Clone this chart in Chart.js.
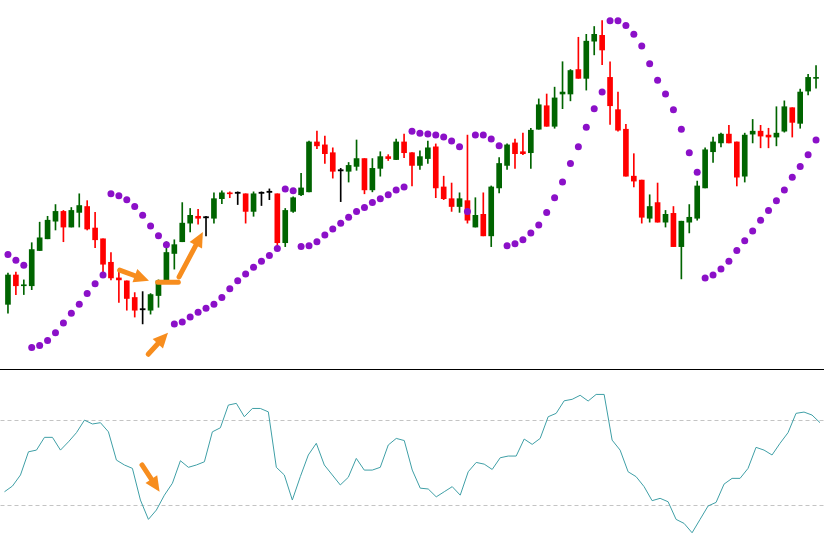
<!DOCTYPE html>
<html lang="en">
<head>
    <meta charset="UTF-8"/>
    <title>Parabolic SAR and RSI</title>
    <script src="https://cdn.jsdelivr.net/npm/chart.js"></script>
    <style>
        html, body {
            margin: 0;
            padding: 0;
            background: #ffffff;
        }

        #pricePane {
            width: 824px;
            height: 369px;
            border-bottom: 1px solid #000000;
        }

        canvas {
            display: block;
        }
    </style>
</head>
<body>
<div id="pricePane">
    <canvas id="priceChart" width="824" height="369"></canvas>
</div>
<canvas id="rsiChart" width="824" height="177"></canvas>

<script>
    // candles
    const open = [62, 92, 81, 81, 117, 129, 147, 157, 141, 156,
        162, 140, 129, 105, 89, 86, 69, 57, 56, 71,
        85, 114, 126, 145, 152, 151, 150, 170, 176, 176,
        175, 157, 176, 177, 175, 125, 157, 174, 177, 228,
        225, 217, 199, 198, 203, 211, 179, 201, 213, 210,
        228, 217, 204, 211, 223, 182, 170, 162, 168, 141,
        154, 132, 181, 204, 227, 218, 217, 241, 265, 244,
        277, 277, 302, 293, 331, 337, 294, 261, 241, 193,
        189, 150, 166, 146, 155, 121, 146, 150, 181, 218,
        227, 236, 228, 193, 236, 239, 235, 233, 239, 263,
        247, 280, 293];
    const high = [94, 95, 87, 125, 146, 152, 164, 158, 161, 175,
        168, 156, 129, 115, 96, 86, 74, 75, 73, 87,
        126, 128, 166, 160, 159, 152, 176, 178, 177, 177,
        175, 177, 177, 180, 175, 160, 172, 196, 229, 239,
        234, 222, 201, 207, 230, 211, 211, 218, 215, 231,
        236, 217, 219, 229, 226, 193, 186, 176, 235, 171,
        176, 183, 212, 226, 231, 237, 242, 272, 277, 284,
        310, 302, 335, 338, 346, 352, 310, 279, 246, 216,
        189, 174, 186, 158, 162, 147, 164, 188, 222, 233,
        237, 245, 228, 237, 251, 245, 242, 264, 270, 263,
        282, 297, 306];
    const low = [53, 72, 72, 77, 117, 129, 138, 126, 141, 141,
        138, 120, 95, 87, 64, 56, 49, 42, 52, 59,
        85, 98, 126, 136, 144, 132, 145, 165, 171, 164,
        145, 152, 163, 169, 121, 121, 156, 173, 177, 221,
        206, 191, 167, 187, 199, 175, 177, 193, 209, 210,
        212, 183, 200, 206, 171, 169, 157, 156, 145, 141,
        132, 121, 176, 200, 201, 215, 201, 241, 244, 242,
        262, 270, 293, 281, 317, 307, 246, 239, 193, 182,
        145, 146, 146, 141, 121, 88, 135, 148, 181, 207,
        223, 227, 183, 187, 227, 222, 222, 224, 238, 233,
        242, 276, 283];
    const close = [92, 81, 82, 118, 130, 148, 157, 141, 158, 163,
        139, 128, 103, 89, 87, 68, 56, 57, 72, 86,
        115, 123, 145, 153, 150, 151, 170, 176, 175, 176,
        157, 175, 176, 177, 125, 158, 171, 181, 228, 224,
        216, 198, 199, 204, 211, 179, 201, 213, 211, 228,
        217, 204, 213, 222, 181, 170, 162, 170, 148, 153,
        132, 182, 206, 225, 216, 216, 240, 266, 244, 273,
        279, 301, 293, 331, 338, 322, 265, 240, 193, 188,
        151, 162, 146, 154, 121, 147, 151, 183, 220, 228,
        236, 227, 192, 235, 239, 234, 233, 237, 264, 248,
        279, 294, 294];

    // parabolic SAR, one dot per candle
    const sar = [113, 107, 102, 18, 20, 25, 33, 43, 53, 62,
        73, 83, 92, 175, 173, 169, 162, 153, 142, 132,
        123, 42, 44, 49, 54, 58, 62, 69, 78, 86,
        93, 100, 106, 112, 119, 180, 178, 121, 122, 126,
        133, 139, 145, 151, 157, 161, 166, 170, 174, 179,
        182, 239, 237, 236, 235, 233, 229, 223, 157, 235,
        235, 231, 224, 122, 124, 128, 135, 143, 156, 171,
        187, 206, 223, 243, 262, 279, 352, 352, 347, 338,
        326, 308, 291, 277, 261, 241, 217, 197, 89, 92,
        98, 106, 117, 127, 137, 148, 158, 168, 179, 192,
        203, 215, 230];

    // oscillator pane
    const rsi = [36.4, 39.1, 44.3, 55.2, 56, 62, 62, 56, 59.9, 64.2,
        70.1, 68.3, 68.9, 64.6, 51.3, 49, 47.4, 32.5, 23.4, 27.8,
        34.8, 40.4, 51, 47.9, 49, 50.5, 64.6, 66.5, 77.2, 78,
        71.7, 75.6, 75.6, 74, 47.9, 44.3, 32.5, 43.5, 53.7, 59.2,
        49, 44.3, 39.6, 43.2, 52.1, 46.6, 46.6, 47.9, 58.4, 61.5,
        60.5, 46.6, 38.1, 37.7, 34, 36.4, 38.8, 34.8, 45.8, 50.2,
        49.4, 46.9, 52.4, 53.2, 53.2, 61.2, 58.7, 61.5, 71.7, 73.3,
        79.2, 79.9, 81.8, 79.1, 82.2, 82.2, 60.7, 56, 45.8, 43.5,
        38.8, 32.2, 33.3, 31.7, 23.4, 21.5, 17.1, 23.4, 29.7, 31.4,
        40, 42.7, 42.7, 47.4, 57.3, 56, 53.7, 59.2, 64.2, 73.3,
        73.9, 72.5, 68.9];
    const rsiLevels = [70, 30];

    // hand drawn arrows, in (bar index, value) terms
    const priceArrows = [
        {from: [14.1, 97], to: [17.8, 86], head: true},
        {from: [18.9, 84.5], to: [21.5, 84.5], head: false},
        {from: [21.6, 90], to: [24.6, 136], head: true},
        {from: [17.7, 11], to: [20.2, 33], head: true}
    ];
    const rsiArrows = [
        {from: [17.2, 49], to: [19.4, 36.4], head: true}
    ];

    const labels = close.map((_, i) => i + 1);
    const colors = open.map((o, i) => close[i] > o ? '#006400' : (close[i] < o ? '#ff0000' : '#000000'));
    const wicks = low.map((l, i) => [l, high[i]]);
    const bodies = open.map((o, i) => {
        let lo = Math.min(o, close[i]);
        let hi = Math.max(o, close[i]);
        if (hi - lo < 1) {
            const mid = (hi + lo) / 2;
            lo = mid - 0.6;
            hi = mid + 0.6;
        }
        return [lo, hi];
    });

    function arrowsPlugin(list) {
        return {
            id: 'arrows',
            afterDatasetsDraw(chart) {
                const ctx = chart.ctx;
                const xs = chart.scales.x, ys = chart.scales.y;
                ctx.save();
                ctx.strokeStyle = '#f78d1e';
                ctx.fillStyle = '#f78d1e';
                ctx.lineWidth = 5;
                ctx.lineCap = 'round';
                list.forEach(a => {
                    const x1 = xs.getPixelForValue(a.from[0]), y1 = ys.getPixelForValue(a.from[1]);
                    const x2 = xs.getPixelForValue(a.to[0]), y2 = ys.getPixelForValue(a.to[1]);
                    if (!a.head) {
                        ctx.beginPath();
                        ctx.moveTo(x1, y1);
                        ctx.lineTo(x2, y2);
                        ctx.stroke();
                        return;
                    }
                    const ang = Math.atan2(y2 - y1, x2 - x1);
                    const len = 15, half = 7;
                    const bx = x2 - Math.cos(ang) * len, by = y2 - Math.sin(ang) * len;
                    ctx.beginPath();
                    ctx.moveTo(x1, y1);
                    ctx.lineTo(bx + Math.cos(ang) * 3, by + Math.sin(ang) * 3);
                    ctx.stroke();
                    ctx.beginPath();
                    ctx.moveTo(x2, y2);
                    ctx.lineTo(bx - Math.sin(ang) * half, by + Math.cos(ang) * half);
                    ctx.lineTo(bx + Math.sin(ang) * half, by - Math.cos(ang) * half);
                    ctx.closePath();
                    ctx.fill();
                });
                ctx.restore();
            }
        };
    }

    const levelsPlugin = {
        id: 'levels',
        beforeDatasetsDraw(chart) {
            const ctx = chart.ctx;
            const area = chart.chartArea;
            ctx.save();
            ctx.strokeStyle = '#c4c4c4';
            ctx.lineWidth = 1;
            ctx.setLineDash([4, 3]);
            rsiLevels.forEach(v => {
                const y = Math.round(chart.scales.y.getPixelForValue(v)) + 0.5;
                ctx.beginPath();
                ctx.moveTo(area.left, y);
                ctx.lineTo(area.right, y);
                ctx.stroke();
            });
            ctx.restore();
        }
    };

    new Chart(document.getElementById('priceChart'), {
        type: 'bar',
        data: {
            labels: labels,
            datasets: [{
                label: 'SAR',
                type: 'line',
                data: sar,
                showLine: false,
                pointRadius: 3.5,
                pointBorderWidth: 0,
                pointBackgroundColor: '#8b10c8',
                order: 1
            }, {
                label: 'Body',
                data: bodies,
                backgroundColor: colors,
                barThickness: 5,
                grouped: false,
                order: 2
            }, {
                label: 'Wick',
                data: wicks,
                backgroundColor: colors,
                barThickness: 1,
                grouped: false,
                order: 3
            }]
        },
        options: {
            responsive: false,
            animation: false,
            layout: {padding: {left: 0.5, right: 0, top: 0, bottom: 0}},
            plugins: {legend: {display: false}, tooltip: {enabled: false}},
            scales: {
                x: {display: false, offset: true},
                y: {display: false, min: 0, max: 369}
            }
        },
        plugins: [arrowsPlugin(priceArrows)]
    });

    new Chart(document.getElementById('rsiChart'), {
        type: 'line',
        data: {
            labels: labels,
            datasets: [{
                label: 'RSI',
                data: rsi,
                borderColor: '#3f9fa6',
                borderWidth: 1,
                pointRadius: 0,
                tension: 0
            }]
        },
        options: {
            responsive: false,
            animation: false,
            layout: {padding: {left: 0.5, right: 0, top: 0, bottom: 0}},
            plugins: {legend: {display: false}, tooltip: {enabled: false}},
            scales: {
                x: {display: false, offset: true},
                y: {display: false, min: 10.4, max: 93.7}
            }
        },
        plugins: [levelsPlugin, arrowsPlugin(rsiArrows)]
    });
</script>
</body>
</html>
